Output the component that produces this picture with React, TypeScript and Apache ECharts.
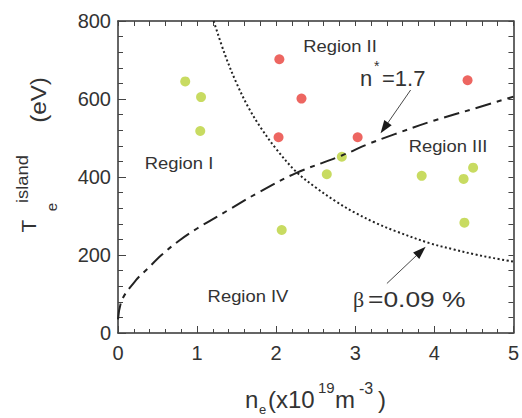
import React, { useEffect, useRef } from "react";
import * as echarts from "echarts";

// ---- data ----
const xMin = 0;
const xMax = 5;
const xStep = 1;
const yMin = 0;
const yMax = 800;
const yStep = 200;

const greenPoints: number[][] = [
  [0.85, 645], [1.05, 605], [1.04, 518], [2.07, 264], [2.64, 407],
  [2.83, 452], [3.84, 403], [4.37, 395], [4.49, 424], [4.38, 283],
];
const redPoints: number[][] = [
  [2.04, 702], [2.32, 601], [2.03, 502], [3.03, 502], [4.42, 648],
];
const nStarCurve: number[][] = [
  [0, 35], [0.05, 85], [0.23, 136], [0.36, 162], [0.55, 200], [0.78, 238],
  [1.0, 268], [1.41, 317], [1.79, 362], [2.25, 410], [2.83, 455], [3.17, 485],
  [3.5, 510], [4.0, 545], [4.5, 575], [5, 606],
];
const betaCurve: number[][] = [
  [1.21, 800], [1.35, 715], [1.5, 640], [1.65, 578], [1.8, 528], [2.0, 472],
  [2.25, 414], [2.5, 373], [2.75, 338], [3.0, 308], [3.25, 283], [3.5, 262],
  [3.93, 231], [4.25, 214], [4.5, 202], [4.75, 192], [5, 183],
];
const nStarArrow: number[][] = [[3.7, 623], [3.32, 512]];
const betaArrow: number[][] = [[3.4, 127], [3.89, 221]];

const SANS = "'Liberation Sans', Arial, sans-serif";
const SERIF = "'Liberation Serif', 'Times New Roman', serif";
const TXT = "#333";

function txt(
  text: string, x: number, y: number, size: number,
  opts: { align?: string; rot?: number; sx?: number; family?: string } = {}
) {
  const align = opts.align || "center";
  return {
    type: "text",
    x, y,
    rotation: opts.rot || 0,
    scaleX: opts.sx || 1,
    z: 100,
    silent: true,
    style: {
      text,
      fill: TXT,
      font: `${size}px ${opts.family || SANS}`,
      align, textAlign: align,
      verticalAlign: "middle", textVerticalAlign: "middle",
    },
  };
}

export default function App() {
  const ref = useRef<HTMLDivElement>(null);
  useEffect(() => {
    if (!ref.current) return;
    const chart = echarts.init(ref.current, null, { renderer: "svg" });
    const axisLine = { show: true, onZero: false, lineStyle: { color: "#333", width: 1.5 } };
    const tickStyle = { color: "#444", width: 1 };
    const baseX = { type: "value", min: xMin, max: xMax, interval: xStep, splitLine: { show: false } };
    const baseY = { type: "value", min: yMin, max: yMax, interval: yStep, splitLine: { show: false } };
    const PI2 = Math.PI / 2;
    const texts = [
      txt("Region II", 340, 46, 16, { sx: 1.15 }),
      txt("Region I", 179, 163, 16, { sx: 1.15 }),
      txt("Region III", 448, 146, 16, { sx: 1.15 }),
      txt("Region IV", 248, 296, 16, { sx: 1.15 }),
      txt("n", 360, 78, 22, { align: "left" }),
      txt("*", 374, 66, 14, { align: "left" }),
      txt("=1.7", 382, 78, 22, { align: "left" }),
      txt("\u03b2", 353, 299, 22, { align: "left", family: SERIF }),
      txt("=0.09 %", 368, 299, 22, { align: "left", sx: 1.2 }),
      // x axis title
      txt("n", 245, 399, 24, { align: "left" }),
      txt("e", 259, 409, 13, { align: "left" }),
      txt("(x10", 268, 399, 24, { align: "left" }),
      txt("19", 318, 387, 15, { align: "left" }),
      txt("m", 335, 399, 24, { align: "left" }),
      txt("-3", 359, 388, 16, { align: "left" }),
      txt(")", 378, 399, 24, { align: "left" }),
      // y axis title (rotated)
      txt("T", 28.5, 226, 21, { rot: PI2 }),
      txt("e", 51, 207, 15, { rot: PI2 }),
      txt("island", 22.5, 179, 16, { rot: PI2, sx: 1.15 }),
      txt("(eV)", 38, 100, 22, { rot: PI2, sx: 1.1 }),
    ];
    chart.setOption({
      animation: false,
      grid: { left: 118, right: 7, top: 21, bottom: 85, containLabel: false },
      xAxis: [
        {
          ...baseX, position: "bottom", axisLine,
          axisTick: { show: true, inside: true, length: 7, lineStyle: tickStyle },
          minorTick: { show: true, splitNumber: 5, length: 4, lineStyle: tickStyle },
          axisLabel: { fontSize: 20, color: TXT, fontFamily: SANS, margin: 10 },
        },
        {
          ...baseX, position: "top", axisLine,
          axisTick: { show: true, inside: true, length: 5, lineStyle: tickStyle },
          minorTick: { show: true, splitNumber: 5, length: 5, lineStyle: tickStyle },
          axisLabel: { show: false },
        },
      ],
      yAxis: [
        {
          ...baseY, position: "left", axisLine,
          axisTick: { show: true, inside: true, length: 8, lineStyle: tickStyle },
          minorTick: { show: true, splitNumber: 5, length: 5, lineStyle: tickStyle },
          axisLabel: { fontSize: 20, color: TXT, fontFamily: SANS, margin: 7 },
        },
        {
          ...baseY, position: "right", axisLine,
          axisTick: { show: true, inside: true, length: 5, lineStyle: tickStyle },
          minorTick: { show: true, splitNumber: 5, length: 5, lineStyle: tickStyle },
          axisLabel: { show: false },
        },
      ],
      series: [
        {
          type: "line", data: nStarCurve, xAxisIndex: 0, yAxisIndex: 0,
          smooth: 0.35, showSymbol: false, silent: true,
          lineStyle: { color: "#222", width: 2, type: [16, 6, 5, 6] },
        },
        {
          type: "line", data: betaCurve, xAxisIndex: 0, yAxisIndex: 0,
          smooth: 0.35, showSymbol: false, silent: true,
          lineStyle: { color: "#222", width: 2, type: [2, 2.5] },
        },
        {
          type: "scatter", data: greenPoints, symbolSize: 10, silent: true,
          itemStyle: { color: "#bad239" },
        },
        {
          type: "scatter", data: redPoints, symbolSize: 10, silent: true,
          itemStyle: { color: "#e8403a" },
        },
      ],
      graphic: texts,
    });

    // arrows: positions converted from data coordinates through the grid's scales
    const arrowEls: any[] = [];
    [nStarArrow, betaArrow].forEach((arr) => {
      const p1 = chart.convertToPixel({ gridIndex: 0 }, arr[0]) as number[];
      const p2 = chart.convertToPixel({ gridIndex: 0 }, arr[1]) as number[];
      const dx = p2[0] - p1[0];
      const dy = p2[1] - p1[1];
      const len = Math.sqrt(dx * dx + dy * dy) || 1;
      const ux = dx / len;
      const uy = dy / len;
      const headLen = 13;
      const headHalf = 4.5;
      const bx = p2[0] - ux * headLen;
      const by = p2[1] - uy * headLen;
      arrowEls.push({
        type: "line", silent: true, z: 90,
        shape: { x1: p1[0], y1: p1[1], x2: bx + ux * 2, y2: by + uy * 2 },
        style: { stroke: "#333", lineWidth: 0.9 },
      });
      arrowEls.push({
        type: "polygon", silent: true, z: 90,
        shape: {
          points: [
            [p2[0], p2[1]],
            [bx - uy * headHalf, by + ux * headHalf],
            [bx + uy * headHalf, by - ux * headHalf],
          ],
        },
        style: { fill: "#1a1a1a" },
      });
    });
    chart.setOption({ graphic: [...texts, ...arrowEls] });
    return () => chart.dispose();
  }, []);
  return (
    <div
      ref={ref}
      style={{ position: "fixed", left: 0, top: 0, width: 522, height: 418, background: "#fff" }}
    />
  );
}
